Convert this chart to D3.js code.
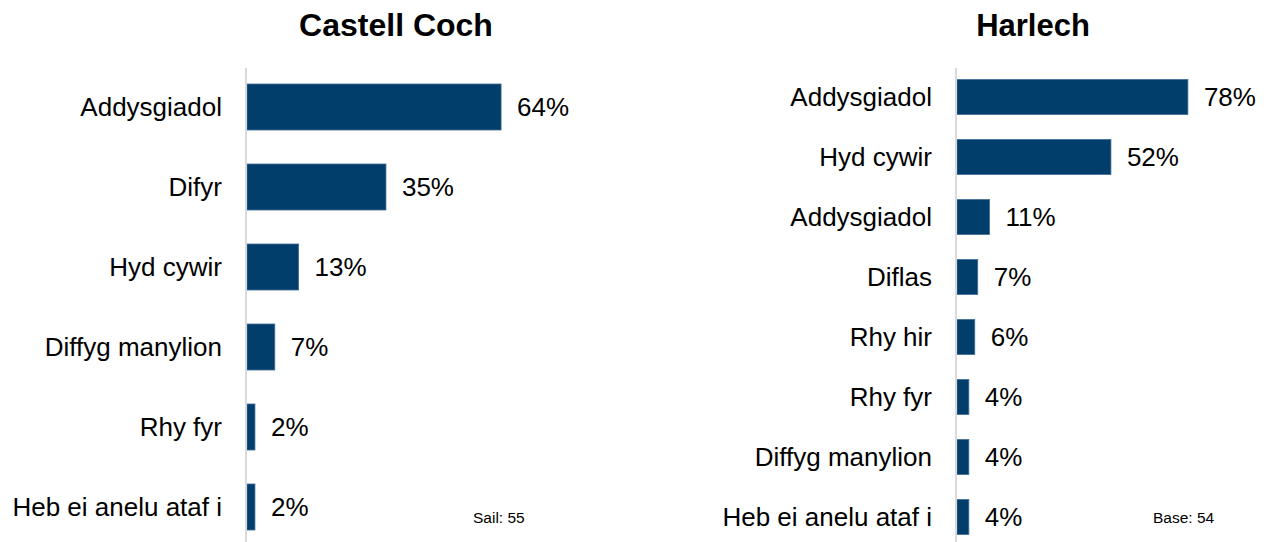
<script src="https://d3js.org/d3.v7.min.js"></script>
<style>
  body { margin: 0; background: #fff; }
  text { font-family: "Liberation Sans", Arial, sans-serif; fill: #000; }
</style>
<div id="my_dataviz"></div>

<script>
    // data
    var castellCategories = ["Addysgiadol", "Difyr", "Hyd cywir", "Diffyg manylion", "Rhy fyr", "Heb ei anelu ataf i"];
    var castellValues = [64, 35, 13, 7, 2, 2];
    var castellTitle = "Castell Coch";
    var castellBase = "Sail: 55";

    var harlechCategories = ["Addysgiadol", "Hyd cywir", "Addysgiadol ", "Diflas", "Rhy hir", "Rhy fyr", "Diffyg manylion", "Heb ei anelu ataf i"];
    var harlechValues = [78, 52, 11, 7, 6, 4, 4, 4];
    var harlechTitle = "Harlech";
    var harlechBase = "Base: 54";

    var width = 1266, height = 542;

    var svg = d3.select("#my_dataviz")
        .append("svg")
        .attr("width", width)
        .attr("height", height);

    function drawPanel(opts) {
        var data = opts.categories.map(function (c, i) { return {cat: c, val: opts.values[i]}; });

        var x = d3.scaleLinear()
            .domain([0, 100])
            .range([opts.x0, opts.x0 + opts.pxPer100]);

        var y = d3.scaleBand()
            .domain(opts.categories)
            .range([67, 547])
            .paddingInner(opts.pad)
            .paddingOuter(opts.pad / 2);

        var g = svg.append("g");

        // title
        g.append("text")
            .attr("x", opts.titleX)
            .attr("y", 36)
            .style("text-anchor", "middle")
            .style("font-weight", "bold")
            .style("font-size", opts.titleSize + "px")
            .text(opts.title);

        // bars
        g.selectAll("rect")
            .data(data)
            .enter()
            .append("rect")
            .attr("x", x(0))
            .attr("y", function (d) { return y(d.cat); })
            .attr("width", function (d) { return x(d.val) - x(0); })
            .attr("height", y.bandwidth())
            .style("fill", "#023e6b")
            .style("stroke", "#3f6c94")
            .style("stroke-width", 0.8);

        // axis line
        g.append("line")
            .attr("x1", x(0) - 1).attr("x2", x(0) - 1)
            .attr("y1", 68).attr("y2", height)
            .style("stroke", "#d9d9d9")
            .style("stroke-width", 2);

        // category labels
        g.selectAll(".cat")
            .data(data)
            .enter()
            .append("text")
            .attr("class", "cat")
            .attr("x", x(0) - 25)
            .attr("y", function (d) { return y(d.cat) + y.bandwidth() / 2; })
            .attr("dy", "0.35em")
            .style("text-anchor", "end")
            .style("font-size", "26px")
            .text(function (d) { return d.cat.trim(); });

        // value labels
        g.selectAll(".val")
            .data(data)
            .enter()
            .append("text")
            .attr("class", "val")
            .attr("x", function (d) { return x(d.val) + 16; })
            .attr("y", function (d) { return y(d.cat) + y.bandwidth() / 2; })
            .attr("dy", "0.35em")
            .style("font-size", "26px")
            .text(function (d) { return d.val + "%"; });

        // base note
        g.append("text")
            .attr("x", opts.baseX)
            .attr("y", 523)
            .style("font-size", "15.5px")
            .text(opts.base);
    }

    drawPanel({
        categories: castellCategories, values: castellValues,
        title: castellTitle, base: castellBase,
        x0: 247, pxPer100: 397, pad: 0.425,
        titleX: 396, titleSize: 32, baseX: 473
    });

    drawPanel({
        categories: harlechCategories, values: harlechValues,
        title: harlechTitle, base: harlechBase,
        x0: 957, pxPer100: 296, pad: 0.417,
        titleX: 1033, titleSize: 31, baseX: 1153
    });
</script>
